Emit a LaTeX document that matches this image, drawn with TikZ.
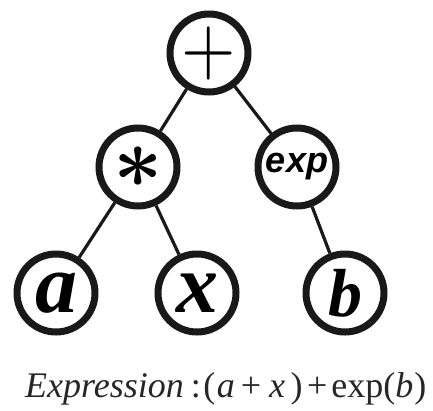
\documentclass[tikz,border=0pt]{standalone}
\usepackage{fontspec}
\usepackage{graphicx}
\usepackage{amsmath}
\setmainfont{Liberation Serif}
\newfontfamily\arialf{Liberation Sans}
\newcommand\bigast{\scalebox{8.6}{$\boldsymbol{\ast}$}}
\begin{document}
\begin{tikzpicture}[x=1pt,y=-1pt,
  tnode/.style={circle,draw=black!90,line width=7pt,minimum size=78pt,inner sep=0pt,fill=white},
  edge/.style={line width=3.2pt,black!90}]
\useasboundingbox (0,0) rectangle (433,410);
\node[tnode] (root) at (209,53) {\scalebox{7}[8]{$+$}};
\node[tnode] (mul) at (138,167) {\bigast};
\node[tnode] (exp) at (297,167) {\arialf\bfseries\itshape\fontsize{36}{36}\selectfont exp};
\node[tnode] (a) at (56,293) {\bfseries\itshape\fontsize{84}{84}\selectfont a};
\node[tnode] (x) at (197,293) {\bfseries\itshape\fontsize{84}{84}\selectfont x};
\node[tnode] (b) at (345,293) {\bfseries\itshape\fontsize{68}{68}\selectfont b};
\draw[edge] (root) -- (mul);
\draw[edge] (root) -- (exp);
\draw[edge] (mul) -- (a);
\draw[edge] (mul) -- (x);
\draw[edge] (exp) -- (b);
\node[anchor=base west,inner sep=0pt,text=black!85] (cap) at (25,397) {\fontsize{36}{36}\selectfont\textit{Expression}\hspace{7pt}:\hspace{2.5pt}(\hspace{1.5pt}\textit{a}\hspace{6pt}+\hspace{8pt}\textit{x}\hspace{5.5pt})\hspace{4.5pt}+\hspace{4pt}exp(\textit{b}\hspace{1pt})};
\end{tikzpicture}
\end{document}
